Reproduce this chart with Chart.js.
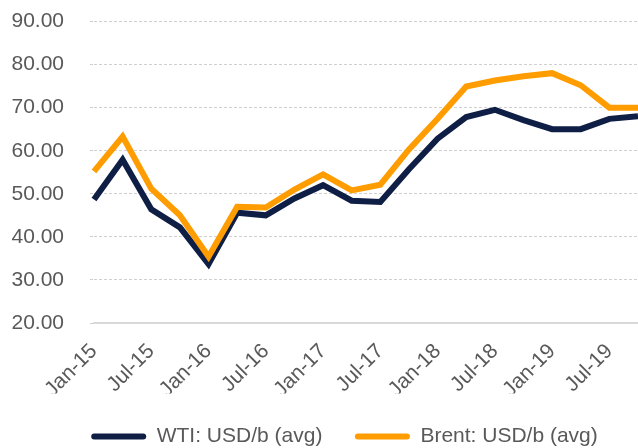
<!DOCTYPE html>
<html>
<head>
<meta charset="utf-8">
<script src="https://cdn.jsdelivr.net/npm/chart.js@4"></script>
<style>
  html, body { margin: 0; padding: 0; background: #ffffff; }
  #wrap { width: 638px; height: 448px; position: relative; }
</style>
</head>
<body>
<div id="wrap"><canvas id="c" width="638" height="448"></canvas></div>
<script>
const quarters = ['Jan-15','Apr-15','Jul-15','Oct-15','Jan-16','Apr-16','Jul-16','Oct-16',
                  'Jan-17','Apr-17','Jul-17','Oct-17','Jan-18','Apr-18','Jul-18','Oct-18',
                  'Jan-19','Apr-19','Jul-19','Oct-19'];
const wti   = [48.7, 57.9, 46.4, 42.2, 33.7, 45.6, 45.0, 48.9, 52.0, 48.4,
               48.1, 55.7, 62.8, 67.8, 69.5, 67.1, 65.0, 65.0, 67.4, 68.0];
const brent = [55.2, 63.3, 51.2, 45.0, 35.4, 47.0, 46.8, 51.0, 54.5, 50.8,
               52.1, 60.3, 67.4, 74.9, 76.3, 77.3, 78.0, 75.2, 70.0, 70.0];
const seriesNames = ['WTI: USD/b (avg)', 'Brent: USD/b (avg)'];
const yTicks = { min: 20, max: 90, step: 10 };

const FONT = "'Liberation Sans', Arial, sans-serif";
const TXT = '#595959';
const NAVY = '#0e1e44';
const ORANGE = '#ff9c00';

const shiftLegend = {
  id: 'shiftLegend',
  afterLayout(chart) {
    const lg = chart.legend;
    if (lg) { lg.left += 23; lg.right += 23; }
  }
};

function zeroPad(s, right) {
  s.paddingLeft = 0; s.paddingTop = 0; s.paddingBottom = 0; s.paddingRight = right;
}

new Chart(document.getElementById('c'), {
  type: 'line',
  data: {
    labels: quarters,
    datasets: [
      { label: seriesNames[0], data: wti, borderColor: NAVY, backgroundColor: NAVY,
        borderWidth: 6, pointRadius: 0, tension: 0, order: 1 },
      { label: seriesNames[1], data: brent, borderColor: ORANGE, backgroundColor: ORANGE,
        borderWidth: 6, pointRadius: 0, tension: 0, order: 0 }
    ]
  },
  plugins: [shiftLegend],
  options: {
    responsive: false,
    animation: false,
    layout: { padding: { left: 0, right: -5, top: 21.5, bottom: -9 } },
    plugins: {
      tooltip: { enabled: false },
      legend: {
        position: 'bottom',
        labels: {
          font: { family: FONT, size: 21 },
          color: TXT,
          boxWidth: 55,
          boxHeight: 6,
          padding: 32.5,
          useBorderRadius: true,
          borderRadius: 3,
          sort: (a, b) => a.datasetIndex - b.datasetIndex,
          generateLabels: (chart) => {
            const items = Chart.defaults.plugins.legend.labels.generateLabels(chart);
            items.forEach(it => { it.lineWidth = 0; it.fillStyle = it.strokeStyle; });
            return items;
          }
        }
      }
    },
    scales: {
      x: {
        grid: { display: false },
        border: { display: true, color: '#d9d9d9', width: 2 },
        ticks: {
          autoSkip: false,
          minRotation: 45,
          maxRotation: 45,
          padding: 8,
          color: TXT,
          font: { family: FONT, size: 21 },
          callback: function(v, i) { return i % 2 === 0 ? this.getLabelForValue(v) : ''; }
        },
        afterFit: (s) => { s.height = 70.5; zeroPad(s, -5); }
      },
      y: {
        min: yTicks.min,
        max: yTicks.max,
        border: { display: false, dash: [3, 2] },
        grid: { color: '#d0d0d0', lineWidth: 1, drawTicks: true, tickLength: 4,
                tickColor: '#d0d0d0', tickBorderDash: [3, 2] },
        ticks: {
          stepSize: yTicks.step,
          padding: 26,
          color: TXT,
          font: { family: FONT, size: 21 },
          callback: (v) => v.toFixed(2)
        },
        afterFit: (s) => { s.width = 94; zeroPad(s, -5); }
      }
    }
  }
});
</script>
</body>
</html>
